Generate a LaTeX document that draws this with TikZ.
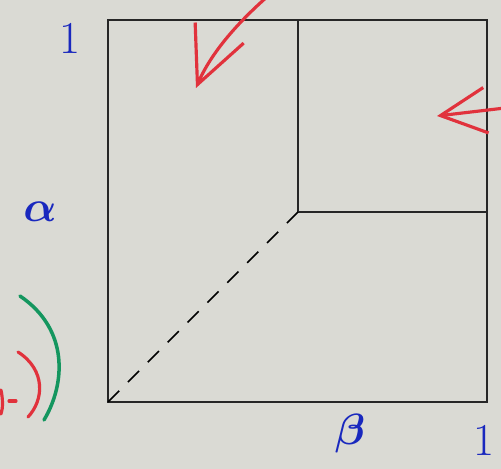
\documentclass[tikz,border=0pt]{standalone}
\usepackage{tikz}
\usetikzlibrary{arrows.meta, calc, positioning}
\definecolor{paper}{RGB}{218,218,212}
\definecolor{penblue}{RGB}{25,40,190}
\definecolor{penred}{RGB}{225,50,60}
\definecolor{pengreen}{RGB}{20,150,95}

\begin{document}
\begin{tikzpicture}[x=0.02cm, y=-0.02cm,
    frame/.style={line width=1.6pt, black!85},
    redpen/.style={line width=1.8pt, penred, line cap=round},
    label/.style={text=penblue, font=\fontsize{26}{30}\selectfont\boldmath},
    greek/.style={label, font=\fontsize{34}{40}\selectfont\boldmath}]
    % Background paper
    \fill[paper] (0,0) rectangle (501,469);
    \useasboundingbox (0,0) rectangle (501,469);

    % Corners of the unit square
    \coordinate (O) at (108,402);
    \coordinate (TL) at (108,20);
    \coordinate (TR) at (487,20);
    \coordinate (BR) at (487,402);
    \coordinate (M) at (298,212);

    % Outer square
    \draw[frame] (O) -- (TL) -- (TR) -- (BR) -- cycle;
    % Upper right sub-square
    \draw[frame] (M) -- (M |- TL);
    \draw[frame] (M) -- (M -| BR);
    % Diagonal
    \draw[line width=1pt, dash pattern=on 9pt off 7pt] (O) -- (M);

    % Axis labels
    \node[label] (one-y) at (70,38) {1};
    \node[greek] (alpha) at (40,212) {$\alpha$};
    \node[greek] (beta) at (350,434) {$\beta$};
    \node[label] (one-x) at (484,440) {1};

    % Red arrows
    \coordinate (a1start) at (268,-4);
    \coordinate (a1tip) at (196,88);
    \draw[redpen, -{Straight Barb[length=32pt, width=30pt, line width=1.8pt]}]
        (a1start) .. controls (235,25) and (210,55) .. (a1tip);
    \coordinate (a2start) at (505,108);
    \coordinate (a2tip) at (437,116);
    \draw[redpen, -{Straight Barb[length=26pt, width=26pt, line width=1.8pt]}]
        (a2start) -- (a2tip);

    % Brackets on the left
    \draw[line width=2pt, pengreen, line cap=round]
        (20,296) .. controls (70,330) and (65,385) .. (44,420);
    \draw[redpen] (18,352) .. controls (46,370) and (44,400) .. (28,417);
    \draw[redpen] (9,401) -- (16,401);
    \draw[redpen] (1,390) .. controls (3,400) and (3,408) .. (1,414);
\end{tikzpicture}
\end{document}
